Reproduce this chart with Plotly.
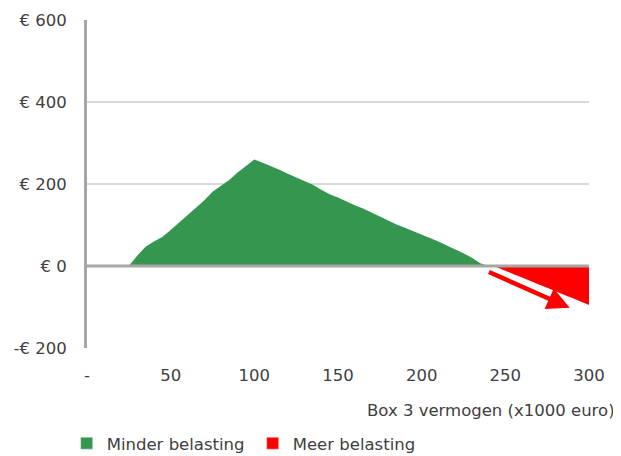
import plotly.graph_objects as go

x_vals = list(range(0, 305, 5))
minder = [0, 0, 0, 0, 0, 0, 25, 47, 60, 71, 88, 106, 124, 142, 160, 181, 196, 210, 228, 245,
          260, 252, 244, 235, 225, 216, 206, 198, 186, 175, 167, 157, 148, 140, 130, 120,
          110, 101, 93, 85, 77, 68, 60, 50, 41, 31, 20, 7, 0, 0, 0, 0, 0, 0, 0, 0, 0, 0, 0, 0, 0]
meer = [0] * 49 + [-3, -12, -20, -28, -37, -45, -53, -62, -70, -78, -87, -95]

x_ticks = [0, 50, 100, 150, 200, 250, 300]
x_ticktext = ["-", "50", "100", "150", "200", "250", "300"]
y_ticks = [-200, 0, 200, 400, 600]
y_ticktext = ["-€ 200", "€ 0", "€ 200", "€ 400", "€ 600"]

GREEN = "#34964F"
RED = "#FF0000"
FONT = "DejaVu Sans"
FS = 16.5
TXT = "#404040"

# page body has an 8px margin, so the figure is 8px smaller and offsets are reduced
W, H = 613, 448

fig = go.Figure()
fig.add_trace(go.Scatter(x=x_vals, y=minder, fill="tozeroy", mode="lines",
                         line=dict(width=0, color=GREEN), fillcolor=GREEN,
                         showlegend=False, hoverinfo="skip"))
fig.add_trace(go.Scatter(x=x_vals, y=meer, fill="tozeroy", mode="lines",
                         line=dict(width=0, color=RED), fillcolor=RED,
                         showlegend=False, hoverinfo="skip"))
fig.add_trace(go.Bar(x=[None], y=[None], marker_color=GREEN, name="Minder belasting"))
fig.add_trace(go.Bar(x=[None], y=[None], marker_color=RED, name="Meer belasting"))

fig.add_shape(type="line", x0=0, x1=300, y0=0, y1=0, xref="x", yref="y",
              line=dict(color="#A6A6A6", width=3), layer="above")

fig.add_annotation(x=288.5, y=-102, ax=239.3, ay=-13, xref="x", yref="y",
                   axref="x", ayref="y", showarrow=True, arrowhead=2,
                   arrowsize=1.0, arrowwidth=4.5, arrowcolor=RED, text="")

fig.add_annotation(text="Box 3 vermogen (x1000 euro)", xref="paper", yref="paper",
                   x=1.0558, y=-0.192, xanchor="right", yanchor="middle", showarrow=False,
                   font=dict(family=FONT, size=FS, color=TXT))

fig.update_layout(
    width=W, height=H,
    margin=dict(l=79, r=32, t=12, b=108),
    plot_bgcolor="white", paper_bgcolor="white",
    font=dict(family=FONT, size=FS, color=TXT),
    xaxis=dict(range=[0, 300], tickvals=x_ticks, ticktext=x_ticktext, showgrid=False,
               zeroline=False, showline=False, ticks="", ticklabelstandoff=15,
               automargin=False),
    yaxis=dict(range=[-200, 600], tickvals=y_ticks, ticktext=y_ticktext,
               showgrid=True, gridcolor="#D9D9D9", gridwidth=1.5, zeroline=False,
               showline=True, linecolor="#A6A6A6", linewidth=3, ticks="",
               ticklabelstandoff=14, automargin=False),
    legend=dict(orientation="h", xref="container", yref="container",
                x=58.7 / W, xanchor="left", y=(H - 435.5) / H, yanchor="middle",
                entrywidth=141, entrywidthmode="pixels",
                font=dict(family=FONT, size=FS, color=TXT), traceorder="normal"),
    showlegend=True,
)

fig.write_html("out.html")
